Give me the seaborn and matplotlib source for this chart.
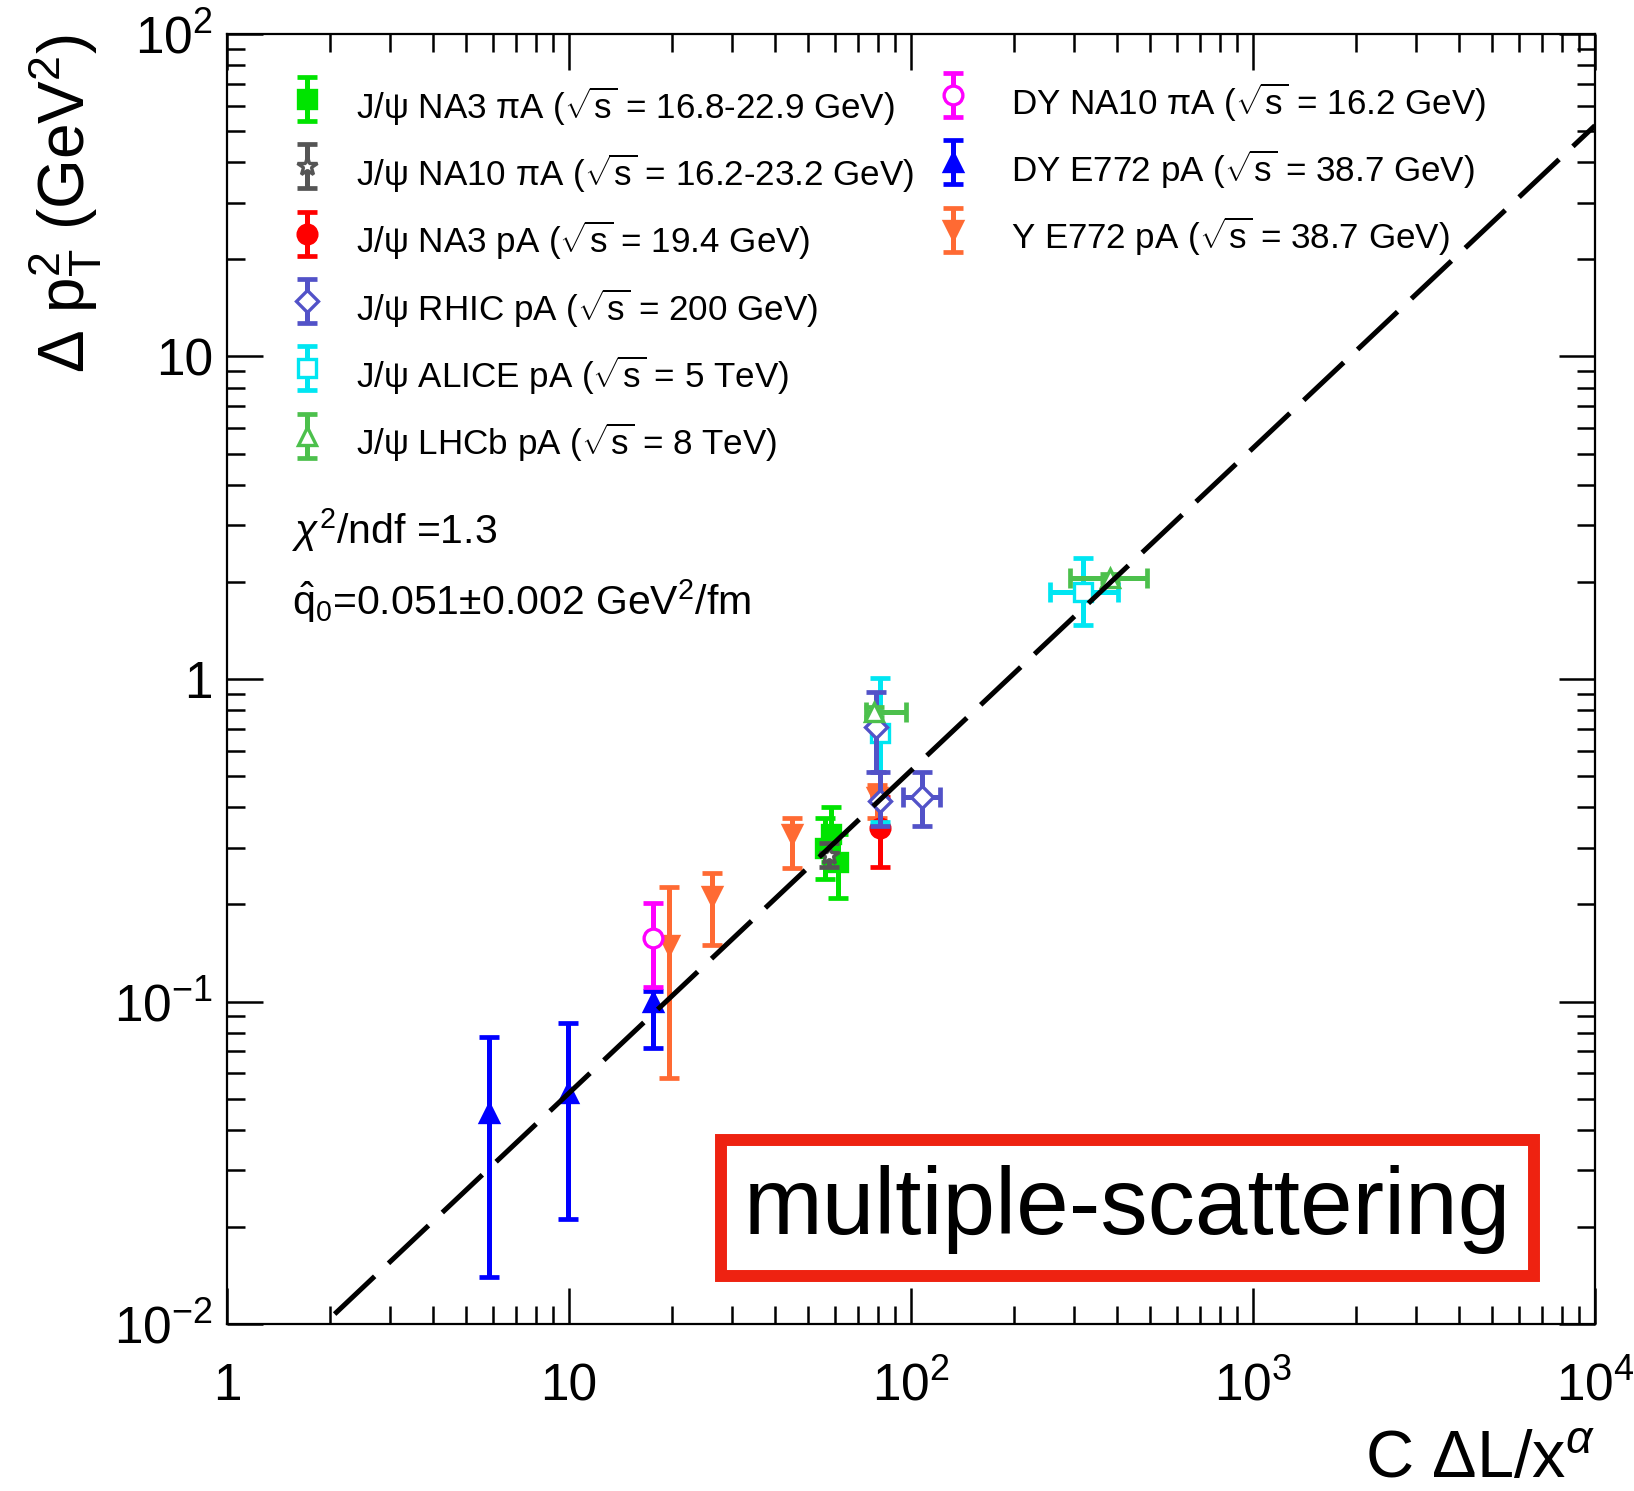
import numpy as np
import pandas as pd
import matplotlib
matplotlib.use("Agg")
import matplotlib.pyplot as plt
import seaborn as sns
from matplotlib.lines import Line2D
from matplotlib.collections import LineCollection
from matplotlib.container import ErrorbarContainer
from matplotlib.legend_handler import HandlerErrorbar
from matplotlib.patches import Rectangle
from matplotlib.ticker import LogLocator, NullFormatter

# ------------------------------------------------------------------ data
na3_pia_x = [56.0, 58.5, 61.0]
na3_pia_y = [0.30, 0.33, 0.27]
na3_pia_ylo = [0.24, 0.27, 0.21]
na3_pia_yhi = [0.37, 0.40, 0.33]

na10_pia_x = [57.5]
na10_pia_y = [0.285]
na10_pia_ylo = [0.262]
na10_pia_yhi = [0.31]

na3_pa_x = [81.0]
na3_pa_y = [0.345]
na3_pa_ylo = [0.262]
na3_pa_yhi = [0.43]

rhic_x = [79.0, 81.0, 107.5]
rhic_y = [0.71, 0.42, 0.43]
rhic_ylo = [0.515, 0.35, 0.35]
rhic_yhi = [0.91, 0.515, 0.515]
rhic_xlo = [79.0, 81.0, 95.0]
rhic_xhi = [79.0, 81.0, 121.5]

alice_x = [81.0, 318.0]
alice_y = [0.68, 1.86]
alice_ylo = [0.36, 1.47]
alice_yhi = [1.01, 2.37]
alice_xlo = [81.0, 255.0]
alice_xhi = [81.0, 403.0]

lhcb_x = [78.0, 382.0]
lhcb_y = [0.79, 2.06]
lhcb_ylo = [0.76, 2.00]
lhcb_yhi = [0.82, 2.12]
lhcb_xlo = [74.0, 292.0]
lhcb_xhi = [97.0, 490.0]

dy_na10_x = [17.6]
dy_na10_y = [0.157]
dy_na10_ylo = [0.111]
dy_na10_yhi = [0.202]

dy_e772_x = [5.83, 9.95, 17.6]
dy_e772_y = [0.0451, 0.052, 0.100]
dy_e772_ylo = [0.0140, 0.0212, 0.072]
dy_e772_yhi = [0.0776, 0.0857, 0.108]

ups_e772_x = [19.65, 26.2, 45.0, 79.3]
ups_e772_y = [0.150, 0.212, 0.33, 0.43]
ups_e772_ylo = [0.058, 0.150, 0.26, 0.37]
ups_e772_yhi = [0.226, 0.250, 0.37, 0.47]

fit_x = [1.0, 1.0e4]
fit_y = [0.0052, 52.0]

x_ticks = [1, 10, 100, 1000, 10000]
x_tick_labels = ["1", "10", "$10^{2}$", "$10^{3}$", "$10^{4}$"]
y_ticks = [0.01, 0.1, 1, 10, 100]
y_tick_labels = ["$10^{-2}$", "$10^{-1}$", "1", "10", "$10^{2}$"]

labels_left = [
    r"J/ψ NA3 πA ($\sqrt{\mathrm{s}}$ = 16.8-22.9 GeV)",
    r"J/ψ NA10 πA ($\sqrt{\mathrm{s}}$ = 16.2-23.2 GeV)",
    r"J/ψ NA3 pA ($\sqrt{\mathrm{s}}$ = 19.4 GeV)",
    r"J/ψ RHIC pA ($\sqrt{\mathrm{s}}$ = 200 GeV)",
    r"J/ψ ALICE pA ($\sqrt{\mathrm{s}}$ = 5 TeV)",
    r"J/ψ LHCb pA ($\sqrt{\mathrm{s}}$ = 8 TeV)",
]
labels_right = [
    r"DY NA10 πA ($\sqrt{\mathrm{s}}$ = 16.2 GeV)",
    r"DY E772 pA ($\sqrt{\mathrm{s}}$ = 38.7 GeV)",
    r"Υ E772 pA ($\sqrt{\mathrm{s}}$ = 38.7 GeV)",
]

# ------------------------------------------------------------------ style
sns.set_theme(style="ticks")
plt.rcParams["font.family"] = ["Liberation Sans", "DejaVu Sans"]
plt.rcParams["mathtext.fontset"] = "custom"
plt.rcParams["mathtext.rm"] = "Liberation Sans"
plt.rcParams["mathtext.it"] = "Liberation Sans:italic"
plt.rcParams["mathtext.bf"] = "Liberation Sans:bold"
plt.rcParams["mathtext.sf"] = "Liberation Sans"
for k in ["text.color", "axes.labelcolor", "xtick.color", "ytick.color",
          "axes.edgecolor", "xtick.labelcolor", "ytick.labelcolor"]:
    plt.rcParams[k] = "black"

EW = 3.6   # error-bar line width
CS = 7.0   # cap size
CT = 3.4   # cap thickness
MS = 13.5
MEW = 2.4

C_NA3PI = "#00E400"
C_NA10PI = "#555555"
C_NA3P = "#FF0000"
C_RHIC = "#5252C8"
C_ALICE = "#00E6F2"
C_LHCB = "#4CC04C"
C_DYNA10 = "#FF00FF"
C_DYE772 = "#0000FF"
C_UPS = "#FF6A33"
C_BOX = "#EE2211"

fig = plt.figure(figsize=(16.34, 14.91), dpi=100)
fig.patch.set_facecolor("white")
ax = fig.add_axes([0.1389, 0.1120, 0.8372, 0.8652])
ax.set_facecolor("white")
ax.set_xscale("log")
ax.set_yscale("log")
ax.set_xlim(1, 1e4)
ax.set_ylim(1e-2, 1e2)


def draw(x, y, ylo, yhi, color, marker, filled, xlo=None, xhi=None, z=3, ms=MS):
    x = np.asarray(x, float)
    y = np.asarray(y, float)
    ylo = np.asarray(ylo, float)
    yhi = np.asarray(yhi, float)
    ax.errorbar(x, y, yerr=np.vstack([y - ylo, yhi - y]), fmt="none",
                ecolor=color, elinewidth=EW, capsize=CS, capthick=CT, zorder=z)
    if xlo is not None:
        xlo = np.asarray(xlo, float)
        xhi = np.asarray(xhi, float)
        m = (xlo < x) | (xhi > x)
        if m.any():
            ax.errorbar(x[m], y[m], xerr=np.vstack([x[m] - xlo[m], xhi[m] - x[m]]),
                        fmt="none", ecolor=color, elinewidth=EW, capsize=CS,
                        capthick=CT, zorder=z)
    ax.plot(x, y, ls="none", marker=marker, ms=ms,
            mfc=color if filled else "white", mec=color, mew=MEW, zorder=z + 0.5)


draw(ups_e772_x, ups_e772_y, ups_e772_ylo, ups_e772_yhi, C_UPS, "v", True, z=3)
draw(dy_e772_x, dy_e772_y, dy_e772_ylo, dy_e772_yhi, C_DYE772, "^", True, z=3)
draw(dy_na10_x, dy_na10_y, dy_na10_ylo, dy_na10_yhi, C_DYNA10, "o", False, z=3)
draw(na3_pia_x, na3_pia_y, na3_pia_ylo, na3_pia_yhi, C_NA3PI, "s", True, z=3)
draw(na10_pia_x, na10_pia_y, na10_pia_ylo, na10_pia_yhi, C_NA10PI, "*", False, z=4, ms=15)
draw(na3_pa_x, na3_pa_y, na3_pa_ylo, na3_pa_yhi, C_NA3P, "o", True, z=3)
draw(alice_x, alice_y, alice_ylo, alice_yhi, C_ALICE, "s", False, alice_xlo, alice_xhi, z=4)
draw(rhic_x, rhic_y, rhic_ylo, rhic_yhi, C_RHIC, "D", False, rhic_xlo, rhic_xhi, z=5, ms=11)
draw(lhcb_x, lhcb_y, lhcb_ylo, lhcb_yhi, C_LHCB, "^", False, lhcb_xlo, lhcb_xhi, z=5)

# fit line
fit_df = pd.DataFrame({"x": fit_x, "y": fit_y})
sns.lineplot(data=fit_df, x="x", y="y", ax=ax, color="black", lw=3.6, zorder=10)
ax.lines[-1].set_dashes([11, 3.8])
ax.lines[-1].set_dash_capstyle("butt")

# axes, ticks
ax.set_xlim(1, 1e4)
ax.set_ylim(1e-2, 1e2)
ax.set_xticks(x_ticks)
ax.set_xticklabels(x_tick_labels)
ax.set_yticks(y_ticks)
ax.set_yticklabels(y_tick_labels)
ax.xaxis.set_minor_locator(LogLocator(base=10, subs=np.arange(2, 10)))
ax.yaxis.set_minor_locator(LogLocator(base=10, subs=np.arange(2, 10)))
ax.xaxis.set_minor_formatter(NullFormatter())
ax.yaxis.set_minor_formatter(NullFormatter())
ax.tick_params(which="both", direction="in", top=True, right=True,
               color="black", width=1.8, labelcolor="black")
ax.tick_params(which="major", length=26)
ax.tick_params(which="minor", length=13)
ax.tick_params(axis="x", which="major", labelsize=37, pad=55)
ax.tick_params(axis="y", which="major", labelsize=37, pad=10)
for lab in ax.get_xticklabels():
    lab.set_verticalalignment("baseline")
for s in ax.spines.values():
    s.set_linewidth(1.6)
    s.set_color("black")

ax.set_xlabel(r"C ΔL/x$^{\alpha}$", fontsize=48, loc="right", color="black")
ax.xaxis.set_label_coords(1.0, -0.082)
ax.set_ylabel(r"Δ p$_{\mathrm{T}}^{2}$ (GeV$^{2}$)", fontsize=46, loc="top",
              color="black")
ax.yaxis.set_label_coords(-0.0906, 1.0)


# legends
def leg_handle(color, marker, filled, label, ms=MS):
    ml = Line2D([], [], ls="none", marker=marker, ms=ms,
                mfc=color if filled else "white", mec=color, mew=MEW)
    cap = Line2D([], [], ls="none", marker="_", ms=2 * CS, mew=CT, color=color)
    bar = LineCollection([], colors=[color], linewidths=[EW])
    return ErrorbarContainer((ml, (cap,), (bar,)), has_xerr=False,
                             has_yerr=True, label=label)


h_left = [
    leg_handle(C_NA3PI, "s", True, labels_left[0]),
    leg_handle(C_NA10PI, "*", False, labels_left[1], ms=15),
    leg_handle(C_NA3P, "o", True, labels_left[2]),
    leg_handle(C_RHIC, "D", False, labels_left[3], ms=11),
    leg_handle(C_ALICE, "s", False, labels_left[4]),
    leg_handle(C_LHCB, "^", False, labels_left[5]),
]
h_right = [
    leg_handle(C_DYNA10, "o", False, labels_right[0]),
    leg_handle(C_DYE772, "^", True, labels_right[1]),
    leg_handle(C_UPS, "v", True, labels_right[2]),
]
LFS = 25.2
hm = {ErrorbarContainer: HandlerErrorbar(xerr_size=0.5, yerr_size=0.63)}
common = dict(loc="upper left", bbox_transform=fig.transFigure, frameon=False,
              fontsize=LFS, handlelength=0.82, handleheight=2.12,
              labelspacing=0.3, borderpad=0, borderaxespad=0, handler_map=hm,
              labelcolor="black")
leg1 = ax.legend(handles=h_left, bbox_to_anchor=(0.179, 0.9468),
                 handletextpad=1.0, **common)
ax.add_artist(leg1)
leg2 = ax.legend(handles=h_right, bbox_to_anchor=(0.5744, 0.9495),
                 handletextpad=1.25, **common)

# fit info text
fig.text(292 / 1634, 1 - 544 / 1491, r"$\chi^{2}$/ndf =1.3", fontsize=29.5,
         ha="left", va="baseline", color="black")
fig.text(292 / 1634, 1 - 615 / 1491,
         r"$\hat{\mathrm{q}}_{0}$=0.051$\pm$0.002 GeV$^{2}$/fm", fontsize=29.5,
         ha="left", va="baseline", color="black")

# red framed label
fig.add_artist(Rectangle((721 / 1634, 1 - 1276 / 1491), 813 / 1634, 136 / 1491,
                         transform=fig.transFigure, facecolor="white",
                         edgecolor=C_BOX, linewidth=8.6, zorder=20))
fig.text(1127.5 / 1634, 1 - 1210 / 1491, "multiple-scattering", fontsize=68,
         ha="center", va="center", zorder=21, color="black")

fig.savefig("out.png", dpi=100, facecolor="white")
